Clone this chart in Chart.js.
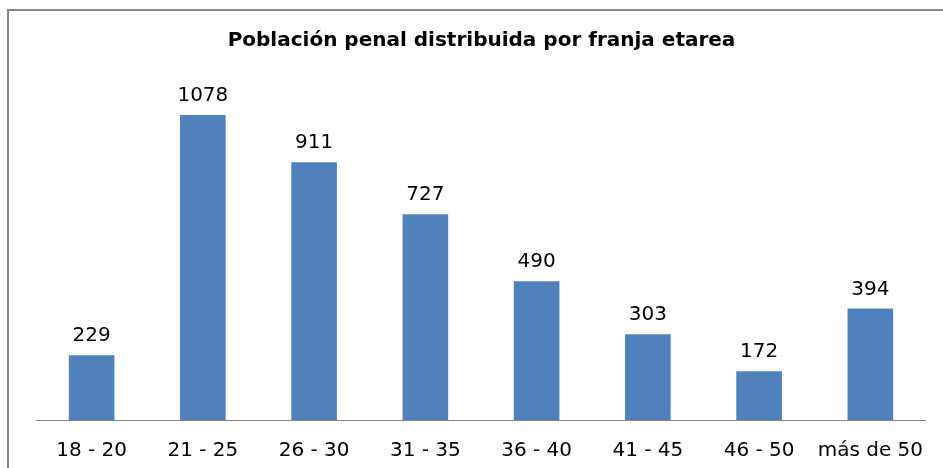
<!DOCTYPE html>
<html>
<head>
<meta charset="utf-8">
<script src="https://cdn.jsdelivr.net/npm/chart.js@4/dist/chart.umd.min.js"></script>
<style>
html,body{margin:0;padding:0;background:#fff;}
#wrap{position:relative;width:943px;height:468px;}
</style>
</head>
<body>
<div id="wrap"><canvas id="c" width="943" height="468"></canvas></div>
<script>
const titleText = 'Población penal distribuida por franja etarea';
const categories = ['18 - 20', '21 - 25', '26 - 30', '31 - 35', '36 - 40', '41 - 45', '46 - 50', 'más de 50'];
const values = [229, 1078, 911, 727, 490, 303, 172, 394];

const frame = {
  id: 'frame',
  beforeDraw(chart) {
    const ctx = chart.ctx;
    ctx.save();
    ctx.fillStyle = '#fff';
    ctx.fillRect(0, 0, chart.width, chart.height);
    ctx.strokeStyle = '#868686';
    ctx.lineWidth = 2;
    ctx.beginPath();
    ctx.moveTo(8, 468);
    ctx.lineTo(8, 10);
    ctx.lineTo(943, 10);
    ctx.stroke();
    ctx.restore();
  }
};

const valueLabels = {
  id: 'valueLabels',
  afterDatasetsDraw(chart) {
    const ctx = chart.ctx;
    const meta = chart.getDatasetMeta(0);
    ctx.save();
    ctx.font = '20px "DejaVu Sans"';
    ctx.fillStyle = '#000';
    ctx.textAlign = 'center';
    ctx.textBaseline = 'alphabetic';
    meta.data.forEach((bar, i) => {
      ctx.fillText(String(values[i]), bar.x, bar.y - 14);
    });
    ctx.restore();
  }
};

new Chart(document.getElementById('c'), {
  type: 'bar',
  data: {
    labels: categories,
    datasets: [{
      data: values,
      backgroundColor: '#4F81BD',
      borderWidth: 0,
      categoryPercentage: 1,
      barPercentage: 0.41
    }]
  },
  options: {
    responsive: false,
    animation: false,
    layout: { padding: { left: 36, right: 16, top: 0, bottom: -14 } },
    plugins: {
      legend: { display: false },
      tooltip: { enabled: false },
      title: {
        display: true,
        text: titleText,
        color: '#000',
        font: { family: 'DejaVu Sans', size: 20, weight: 'bold', lineHeight: 1.2 },
        padding: { top: 29, bottom: 27.5 }
      }
    },
    scales: {
      x: {
        grid: { display: false, drawTicks: false },
        border: { display: true, color: '#868686', width: 1 },
        ticks: { color: '#000', padding: 19, font: { family: 'DejaVu Sans', size: 20 }, maxRotation: 0, autoSkip: false }
      },
      y: {
        display: false,
        min: 0,
        max: 1200
      }
    }
  },
  plugins: [frame, valueLabels]
});
</script>
</body>
</html>
